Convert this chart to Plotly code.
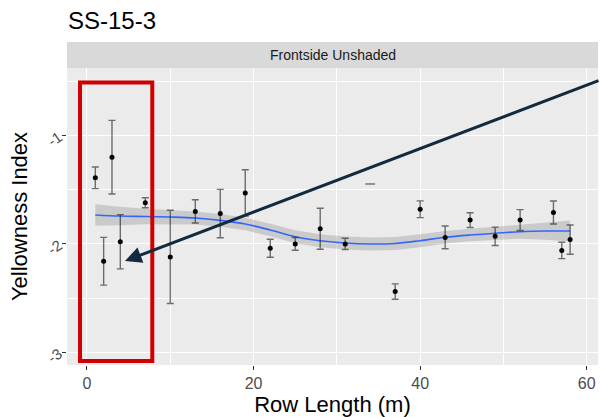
import plotly.graph_objects as go

# ---- data ----
row_length = [1, 2, 3, 4, 7, 10, 13, 16, 19, 22, 25, 28, 31, 37, 40, 43, 46, 49, 52, 56, 57, 58]
yi_mean = [-1.39, -2.16, -1.20, -1.98, -1.62, -2.12, -1.70, -1.72, -1.53, -2.04, -2.00, -1.86,
           -2.00, -2.44, -1.68, -1.94, -1.78, -1.93, -1.78, -1.71, -2.06, -1.96]
yi_err = [0.10, 0.22, 0.34, 0.25, 0.046, 0.43, 0.107, 0.223, 0.214, 0.083, 0.059, 0.189,
          0.052, 0.071, 0.077, 0.105, 0.068, 0.085, 0.096, 0.106, 0.076, 0.135]

# lone error-bar cap with no point
cap_x = [34]
cap_y = [-1.447]

# loess smooth and its confidence half-width
smooth_x = [1, 4, 7, 10, 13, 16, 19, 22, 25, 28, 31, 34, 37, 40, 43, 46, 49, 52, 55, 58]
smooth_y = [-1.733, -1.743, -1.747, -1.752, -1.761, -1.783, -1.816, -1.872, -1.934, -1.970,
            -1.992, -2.001, -1.996, -1.970, -1.939, -1.918, -1.902, -1.887, -1.881, -1.881]
smooth_se = [0.100, 0.085, 0.072, 0.065, 0.060, 0.058, 0.058, 0.058, 0.060, 0.060,
             0.060, 0.060, 0.060, 0.060, 0.058, 0.058, 0.060, 0.065, 0.080, 0.097]

x_ticks = [0, 20, 40, 60]
y_ticks = [-3, -2, -1]
y_ticklabels = ["-3", "-2", "-1"]

title_text = "SS-15-3"
strip_text = "Frontside Unshaded"
x_title = "Row Length (m)"
y_title = "Yellowness Index"

FONT = "Liberation Sans, Arial, Helvetica, sans-serif"

W, H = 600, 417
ML, MR, MT, MB = 67, 2, 68, 52
PW, PH = W - ML - MR, H - MT - MB


def px_to_paper(px, py):
    """page pixel -> paper coordinates"""
    return (px - ML) / PW, (H - MB - py) / PH


fig = go.Figure()

upper = [m + s for m, s in zip(smooth_y, smooth_se)]
lower = [m - s for m, s in zip(smooth_y, smooth_se)]
fig.add_trace(go.Scatter(x=smooth_x + smooth_x[::-1], y=upper + lower[::-1],
                         fill="toself", fillcolor="rgba(153,153,153,0.4)",
                         line=dict(width=0), hoverinfo="skip", showlegend=False))
fig.add_trace(go.Scatter(x=smooth_x, y=smooth_y, mode="lines",
                         line=dict(color="#3366FF", width=1.6, shape="spline"),
                         showlegend=False))
fig.add_trace(go.Scatter(x=row_length, y=yi_mean, mode="markers",
                         marker=dict(color="black", size=5),
                         error_y=dict(type="data", array=yi_err, visible=True,
                                      color="rgba(30,30,30,0.62)", thickness=1.4, width=3.5),
                         showlegend=False))
fig.add_trace(go.Scatter(x=cap_x, y=cap_y, mode="markers",
                         marker=dict(symbol="line-ew", size=7,
                                     line=dict(color="rgba(30,30,30,0.62)", width=1.4)),
                         showlegend=False))

# facet strip
strip_top = (MT - 42) / PH
fig.add_shape(type="rect", xref="paper", yref="paper", x0=0, x1=1, y0=1, y1=1 + strip_top,
              fillcolor="#D9D9D9", line=dict(width=0), layer="below")
fig.add_annotation(xref="paper", yref="paper", x=0.5, y=1 + strip_top / 2, text=strip_text,
                   showarrow=False, font=dict(family=FONT, size=14, color="#1A1A1A"),
                   xanchor="center", yanchor="middle")

# red highlight box (overlay)
rx0, ry0 = px_to_paper(80, 361)
rx1, ry1 = px_to_paper(152.3, 82.5)
fig.add_shape(type="rect", xref="paper", yref="paper", x0=rx0, x1=rx1, y0=ry0, y1=ry1,
              line=dict(color="#D00000", width=4), fillcolor="rgba(0,0,0,0)")

# arrow (overlay)
ax_, ay_ = px_to_paper(125, 261)
fig.add_annotation(xref="paper", yref="paper", x=ax_, y=ay_, text="", showarrow=True,
                   ax=600 - 125, ay=80 - 261, axref="pixel", ayref="pixel",
                   arrowhead=2, arrowsize=1.1, arrowwidth=3, arrowcolor="#132A3E", standoff=0)

fig.update_layout(
    width=W, height=H,
    margin=dict(l=ML, r=MR, t=MT, b=MB, autoexpand=False),
    paper_bgcolor="white", plot_bgcolor="#EBEBEB",
    font=dict(family=FONT),
    title=dict(text=title_text, x=68 / W, xanchor="left", y=1 - 21 / H,
               yanchor="middle", font=dict(family=FONT, size=24, color="black"), automargin=False),
    xaxis=dict(range=[-2.4, 61.35], tickvals=x_ticks, showgrid=True, gridcolor="white",
               gridwidth=1.1, zeroline=False, ticks="outside", ticklen=4, tickcolor="#333333",
               automargin=False,
               tickfont=dict(family=FONT, size=16, color="#4D4D4D"),
               minor=dict(tickvals=[10, 30, 50], showgrid=True, gridcolor="white", gridwidth=0.6),
               title=dict(text=x_title, font=dict(family=FONT, size=22, color="black"), standoff=2)),
    yaxis=dict(range=[-3.117, -0.377], tickvals=y_ticks, ticktext=y_ticklabels, tickangle=-35,
               showgrid=True, gridcolor="white", gridwidth=1.1, zeroline=False,
               ticks="outside", ticklen=4, tickcolor="#333333", automargin=False,
               tickfont=dict(family=FONT, size=15, color="#4D4D4D"),
               minor=dict(tickvals=[-2.5, -1.5, -0.5], showgrid=True, gridcolor="white", gridwidth=0.6),
               title=dict(text=y_title, font=dict(family=FONT, size=22, color="black"), standoff=10)),
)

fig.write_html("out.html", config={"displayModeBar": False},
               post_script="document.body.style.margin='0';document.body.style.overflow='hidden';")
